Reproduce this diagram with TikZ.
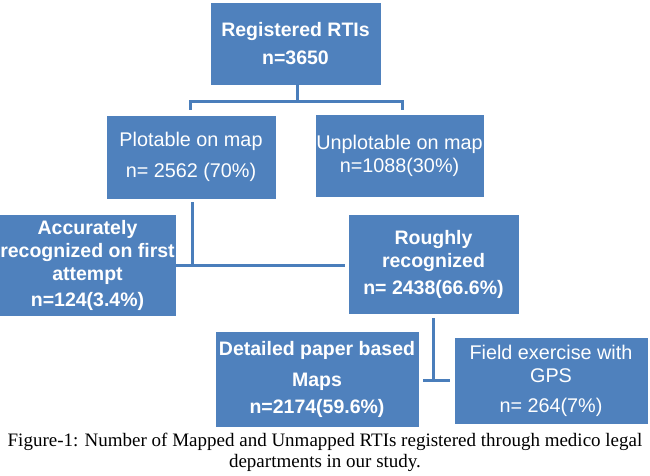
\documentclass[tikz,border=0pt]{standalone}
\usepackage{fontspec}
\newfontfamily\boxfont{Liberation Sans}
\newfontfamily\capfont{Liberation Serif}
\definecolor{boxblue}{HTML}{4F81BD}
\definecolor{lineblue}{HTML}{4A7EBB}
\tikzset{
  box/.style={fill=boxblue, draw=boxblue, inner sep=0pt, align=center, text=white,
    font=\boxfont\fontsize{19.8bp}{23bp}\selectfont},
  boldbox/.style={box, font=\boxfont\bfseries\fontsize{19.5bp}{23bp}\selectfont},
  conn/.style={draw=lineblue, line width=3bp},
}
\begin{document}
\begin{tikzpicture}[x=1bp,y=-1bp]
\useasboundingbox (0,0) rectangle (650,476);
% boxes
\node[boldbox, minimum width=169bp, minimum height=81bp] (top) at (295.5,43.5)
  {Registered RTIs\\[5bp] n=3650};
\node[box, minimum width=168bp, minimum height=82bp] (plot) at (191,157)
  {Plotable on map\\[8bp] n= 2562 (70\%)};
\node[box, minimum width=167bp, minimum height=81bp] (unplot) at (399.5,155.5)
  {Unplotable on map\\ n=1088(30\%)};
\node[boldbox, minimum width=169bp, minimum height=100bp] (acc) at (87.5,265)
  {Accurately\\ recognized on first\\ attempt\\[3bp] n=124(3.4\%)};
\node[boldbox, minimum width=169bp, minimum height=98bp] (rough) at (433.5,264)
  {Roughly\\ recognized\\[4bp] n= 2438(66.6\%)};
\node[boldbox, minimum width=202bp, minimum height=94bp] (det) at (317,379)
  {Detailed paper based\\[8bp] Maps\\[4bp] n=2174(59.6\%)};
\node[box, minimum width=192bp, minimum height=85bp] (field) at (551,380.5)
  {Field exercise with\\ GPS\\[7bp] n= 264(7\%)};
% connector points
\coordinate (j1) at (297,102);
\coordinate (pl) at (190,110);
\coordinate (ur) at (402,110);
\coordinate (j2) at (192,266);
\coordinate (accR) at (176,266);
\coordinate (roughL) at (345,266);
\coordinate (j3) at (433,380);
\coordinate (detR) at (423,380);
\coordinate (fieldL) at (450,380);
% connectors
\draw[conn] (top.south -| j1) -- (j1);
\draw[conn] (pl) |- (j1) -| (ur);
\draw[conn] ([yshift=-4bp]plot.south -| j2) -- (j2);
\draw[conn] (accR) -- (roughL);
\draw[conn] ([yshift=-5bp]rough.south -| j3) -- (j3);
\draw[conn] (detR) -- (fieldL);
% caption
\node[font=\capfont\fontsize{19bp}{21bp}\selectfont, anchor=base, inner sep=0pt] (cap1) at (325,446)
  {Figure-1: Number of Mapped and Unmapped RTIs registered through medico legal};
\node[font=\capfont\fontsize{19bp}{21bp}\selectfont, anchor=base, inner sep=0pt] (cap2) at (325,467)
  {departments in our study.};
\end{tikzpicture}
\end{document}
